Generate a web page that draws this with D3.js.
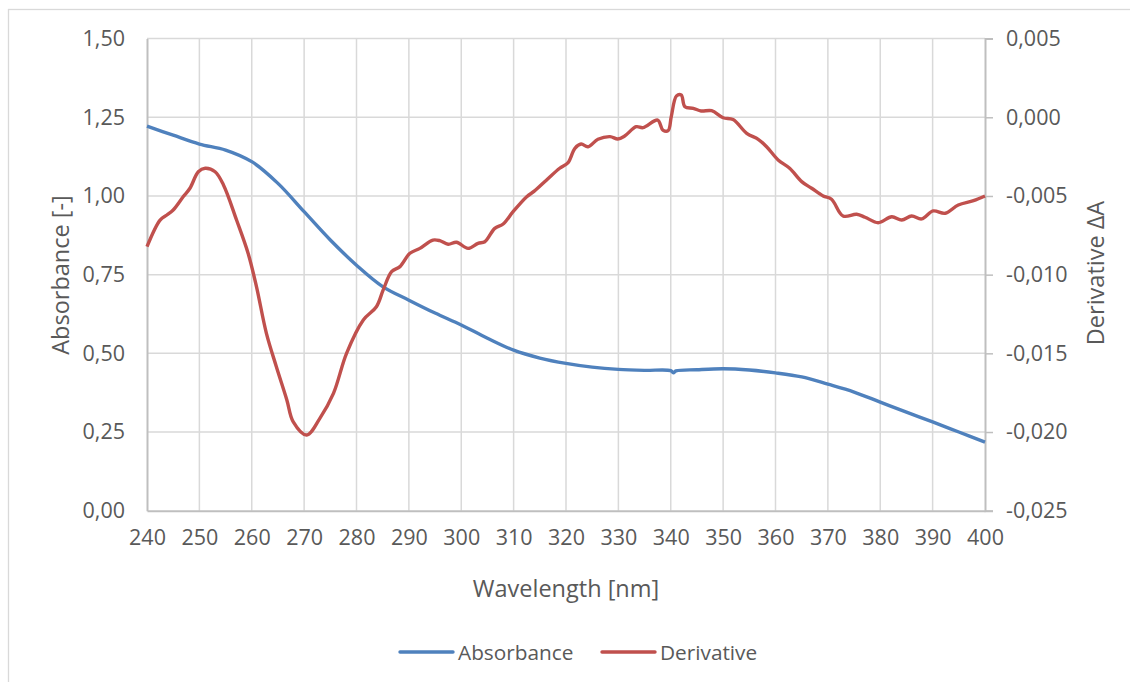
<!DOCTYPE html>
<html>
<head>
<meta charset="utf-8">
<script src="https://cdn.jsdelivr.net/npm/d3@7"></script>
<style>
  html, body { margin: 0; padding: 0; background: #fff; }
  svg { display: block; }
  text { font-family: "Open Sans", "Noto Sans", sans-serif; fill: #595959; }
</style>
</head>
<body>
<svg id="chart" width="1130" height="682"></svg>
<script>
// Absorbance spectrum (left axis)
const absWavelength = [240, 245, 250, 255, 260, 265, 270, 275, 280, 285, 290, 295, 300, 305, 310, 315, 320, 325, 330, 335, 340, 340.5, 341, 345, 350, 355, 360, 365, 370, 375, 380, 385, 390, 395, 400];
const absValues     = [1.222, 1.193, 1.165, 1.146, 1.109, 1.040, 0.950, 0.860, 0.780, 0.712, 0.669, 0.628, 0.590, 0.548, 0.510, 0.485, 0.468, 0.456, 0.449, 0.446, 0.445, 0.438, 0.444, 0.448, 0.451, 0.447, 0.438, 0.425, 0.402, 0.377, 0.345, 0.313, 0.282, 0.250, 0.218];

// First derivative ΔA (right axis)
const derWavelength = [240, 242.5, 243.8, 245.0, 246.9, 248.2, 249.8, 251.1, 253.0, 254.6, 257.1, 259.3, 260.9, 262.8, 264.7, 266.7, 267.9, 270.5, 273.0, 275.6, 278.1, 281.3, 283.8, 285.1, 286.7, 288.3, 290.2, 292.1, 294.6, 295.9, 297.5, 299.1, 301.3, 303.2, 304.5, 306.4, 308.0, 309.9, 312.5, 314.0, 316.3, 318.8, 320.4, 321.7, 322.9, 324.2, 326.1, 328.4, 329.9, 331.2, 333.4, 334.7, 337.5, 338.5, 339.5, 340.1, 341.1, 342.0, 342.7, 344.3, 345.8, 347.8, 350.0, 351.9, 354.5, 356.7, 358.3, 360.5, 362.7, 365.0, 366.9, 369.1, 370.7, 372.9, 375.5, 377.1, 379.6, 382.2, 384.1, 386.0, 387.9, 390.1, 392.4, 394.9, 397.8, 400];
const derValues     = [-0.00822, -0.00653, -0.00621, -0.00589, -0.00505, -0.00451, -0.00346, -0.00324, -0.00346, -0.00430, -0.00653, -0.00864, -0.01076, -0.01373, -0.01585, -0.01796, -0.01934, -0.02019, -0.01913, -0.01754, -0.01500, -0.01288, -0.01204, -0.01097, -0.00981, -0.00949, -0.00864, -0.00833, -0.00780, -0.00784, -0.00807, -0.00794, -0.00833, -0.00801, -0.00791, -0.00706, -0.00678, -0.00600, -0.00505, -0.00468, -0.00398, -0.00324, -0.00288, -0.00197, -0.00170, -0.00187, -0.00140, -0.00123, -0.00138, -0.00119, -0.00060, -0.00066, -0.00018, -0.00081, -0.00085, 0.00004, 0.00136, 0.00142, 0.00067, 0.00057, 0.00040, 0.00042, -0.00003, -0.00014, -0.00102, -0.00140, -0.00187, -0.00271, -0.00324, -0.00409, -0.00451, -0.00500, -0.00521, -0.00627, -0.00616, -0.00635, -0.00670, -0.00632, -0.00653, -0.00627, -0.00646, -0.00595, -0.00610, -0.00557, -0.00530, -0.00500];

// Axis ticks
const xTicks = [240, 250, 260, 270, 280, 290, 300, 310, 320, 330, 340, 350, 360, 370, 380, 390, 400];
const absTicks = [0, 0.25, 0.5, 0.75, 1.0, 1.25, 1.5];
const derTicks = [-0.025, -0.020, -0.015, -0.010, -0.005, 0.000, 0.005];

const absSeries = absWavelength.map((w, i) => ({ x: w, y: absValues[i] }));
const derSeries = derWavelength.map((w, i) => ({ x: w, y: derValues[i] }));

const svg = d3.select("#chart");
const plot = { left: 147, right: 985, top: 38.6, bottom: 510.7 };

const x = d3.scaleLinear().domain([240, 400]).range([plot.left, plot.right]);
const yL = d3.scaleLinear().domain([0, 1.5]).range([plot.bottom, plot.top]);
const yR = d3.scaleLinear().domain([-0.025, 0.005]).range([plot.bottom, plot.top]);

const commaFmt = (d, digits) => d.toFixed(digits).replace(".", ",");

// Chart frame
svg.append("rect")
  .attr("x", 8.5).attr("y", 9.5)
  .attr("width", 1140).attr("height", 700)
  .attr("fill", "#fff").attr("stroke", "#d9d9d9").attr("stroke-width", 1.3);

// Grid lines
const grid = svg.append("g").attr("stroke", "#d9d9d9").attr("stroke-width", 1.5);
grid.selectAll("line.h").data(absTicks.filter(d => d > 0)).join("line")
  .attr("x1", plot.left).attr("x2", plot.right)
  .attr("y1", d => yL(d)).attr("y2", d => yL(d));
grid.selectAll("line.v").data(xTicks.filter(d => d > 240 && d < 400)).join("line")
  .attr("class", "v")
  .attr("y1", plot.top).attr("y2", plot.bottom)
  .attr("x1", d => x(d)).attr("x2", d => x(d));

// Axes
const axisColor = "#bfbfbf";
const xAxis = svg.append("g")
  .attr("transform", `translate(0,${plot.bottom})`)
  .call(d3.axisBottom(x).tickValues(xTicks).tickSize(0).tickPadding(19).tickFormat(d3.format("d")));
const leftAxis = svg.append("g")
  .attr("transform", `translate(${plot.left},0)`)
  .call(d3.axisLeft(yL).tickValues(absTicks).tickSize(0).tickPadding(22).tickFormat(d => commaFmt(d, 2)));
const rightAxis = svg.append("g")
  .attr("transform", `translate(${plot.right},0)`)
  .call(d3.axisRight(yR).tickValues(derTicks).tickSize(8).tickPadding(14).tickFormat(d => commaFmt(d, 3).replace("-0,000", "0,000")));

[xAxis, leftAxis, rightAxis].forEach(g => {
  g.select(".domain").attr("stroke", axisColor).attr("stroke-width", 2);
  g.selectAll(".tick line").attr("stroke", axisColor).attr("stroke-width", 1.5);
  g.selectAll(".tick text").attr("fill", "#595959").style("font-size", "21.5px")
    .style("font-family", '"Open Sans", "Noto Sans", sans-serif');
});
rightAxis.selectAll(".tick text").attr("x", 21);

// Axis titles
svg.append("text").attr("x", 566).attr("y", 588).attr("text-anchor", "middle")
  .attr("dominant-baseline", "central").style("font-size", "23.5px").text("Wavelength [nm]");
svg.append("text").attr("transform", "translate(60,275) rotate(-90)").attr("text-anchor", "middle")
  .attr("dominant-baseline", "central").style("font-size", "23.5px").text("Absorbance [-]");
svg.append("text").attr("transform", "translate(1095,273) rotate(-90)").attr("text-anchor", "middle")
  .attr("dominant-baseline", "central").style("font-size", "23.5px").text("Derivative ΔA");

// Series lines
const lineAbs = d3.line().x(d => x(d.x)).y(d => yL(d.y)).curve(d3.curveCatmullRom.alpha(0.5));
const lineDer = d3.line().x(d => x(d.x)).y(d => yR(d.y)).curve(d3.curveCatmullRom.alpha(0.5));

const blue = "#4f81bd", red = "#c0504d";
svg.append("path").datum(absSeries).attr("d", lineAbs)
  .attr("fill", "none").attr("stroke", blue).attr("stroke-width", 3.4).attr("stroke-linejoin", "round");
svg.append("path").datum(derSeries).attr("d", lineDer)
  .attr("fill", "none").attr("stroke", red).attr("stroke-width", 3.4).attr("stroke-linejoin", "round");

// Legend
const legend = svg.append("g");
const items = [{ name: "Absorbance", color: blue, x: 400 }, { name: "Derivative", color: red, x: 602 }];
items.forEach(it => {
  legend.append("line").attr("x1", it.x).attr("x2", it.x + 53).attr("y1", 652).attr("y2", 652)
    .attr("stroke", it.color).attr("stroke-width", 3.4).attr("stroke-linecap", "round");
  legend.append("text").attr("x", it.x + 58).attr("y", 652).attr("dominant-baseline", "central")
    .style("font-size", "20.8px").text(it.name);
});
</script>
</body>
</html>
